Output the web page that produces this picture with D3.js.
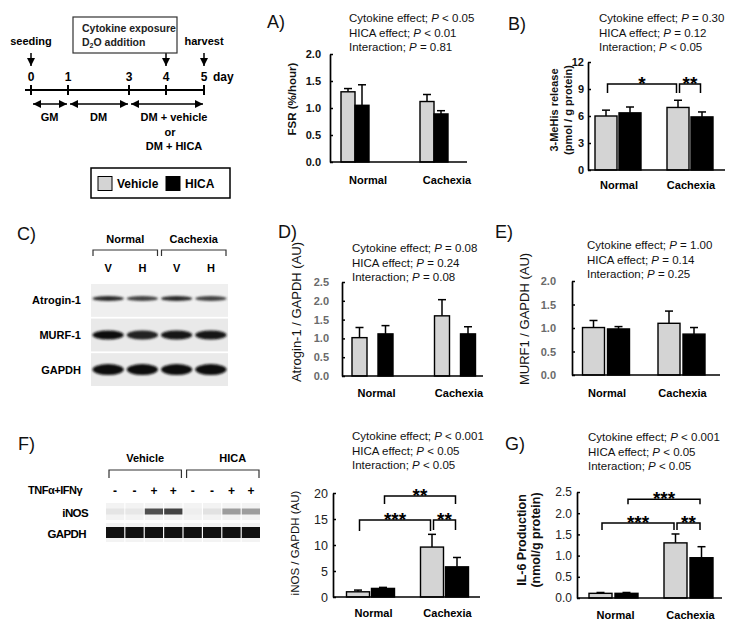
<!DOCTYPE html>
<html>
<head>
<meta charset="UTF-8">
<title>HICA - cytokine exposure figure</title>
<script src="https://cdn.jsdelivr.net/npm/d3@7"></script>
<style>
  body { margin: 0; background: #fff; }
  text { font-family: "Liberation Sans", Arial, sans-serif; }
</style>
</head>
<body>
<script>
var W = 739, H = 628;

// ---------- data ----------
var groups = ["Normal", "Cachexia"];
var series = ["Vehicle", "HICA"];

// timeline
var days = [0, 1, 3, 4, 5];
var phases = [
  { from: 0, to: 1, label: ["GM"] },
  { from: 1, to: 3, label: ["DM"] },
  { from: 3, to: 5, label: ["DM + vehicle", "or", "DM + HICA"] }
];

// A) FSR (%/hour)
var fsrVehicle = [1.30, 1.12], fsrVehicleSE = [0.06, 0.13];
var fsrHica = [1.05, 0.89], fsrHicaSE = [0.38, 0.06];
var pA = [["Cytokine effect", "<", "0.05"], ["HICA effect", "<", "0.01"], ["Interaction", "=", "0.81"]];

// B) 3-MeHis release
var mehVehicle = [6.0, 6.95], mehVehicleSE = [0.65, 0.8];
var mehHica = [6.35, 5.9], mehHicaSE = [0.65, 0.55];
var pB = [["Cytokine effect", "=", "0.30"], ["HICA effect", "=", "0.12"], ["Interaction", "<", "0.05"]];
var sigB = [
  { a: ["Normal", "Vehicle"], b: ["Cachexia", "Vehicle"], level: 9.55, text: "*" },
  { a: ["Cachexia", "Vehicle"], b: ["Cachexia", "HICA"], level: 9.55, text: "**" }
];

// C) western blot
var blotRows = ["Atrogin-1", "MURF-1", "GAPDH"];
var blotLanes = ["V", "H", "V", "H"];
var blotGroups = ["Normal", "Cachexia"];
var atroginBand = [0.85, 0.75, 0.85, 0.75];
var murfBand = [0.97, 0.9, 0.96, 0.96];
var gapdhBand = [0.98, 0.98, 0.97, 0.99];

// D) Atrogin-1 / GAPDH
var atrVehicle = [1.02, 1.60], atrVehicleSE = [0.27, 0.43];
var atrHica = [1.12, 1.12], atrHicaSE = [0.22, 0.19];
var pD = [["Cytokine effect", "=", "0.08"], ["HICA effect", "=", "0.24"], ["Interaction", "=", "0.08"]];

// E) MURF1 / GAPDH
var murVehicle = [1.01, 1.10], murVehicleSE = [0.15, 0.26];
var murHica = [0.98, 0.87], murHicaSE = [0.05, 0.14];
var pE = [["Cytokine effect", "=", "1.00"], ["HICA effect", "=", "0.14"], ["Interaction", "=", "0.25"]];

// F) capillary blot + iNOS / GAPDH
var wesGroups = ["Vehicle", "HICA"];
var cytokine = ["-", "-", "+", "+", "-", "-", "+", "+"];
var inosBand = [0.06, 0.05, 0.72, 0.78, 0.02, 0.07, 0.38, 0.38];
var gapdhWes = [1, 1, 1, 1, 1, 1, 1, 1];
var inosVehicle = [1.0, 9.6], inosVehicleSE = [0.33, 2.45];
var inosHica = [1.65, 5.8], inosHicaSE = [0.2, 1.8];
var pF = [["Cytokine effect", "<", "0.001"], ["HICA effect", "<", "0.05"], ["Interaction", "<", "0.05"]];
var sigF = [
  { a: ["Normal", "Vehicle"], b: ["Cachexia", "Vehicle"], level: 14.8, text: "***", leg: 11 },
  { a: ["Cachexia", "Vehicle"], b: ["Cachexia", "HICA"], level: 14.8, text: "**", leg: 10 },
  { a: ["Normal", "HICA"], b: ["Cachexia", "HICA"], level: 19.4, text: "**", leg: 8 }
];

// G) IL-6 production
var il6Vehicle = [0.11, 1.30], il6VehicleSE = [0.02, 0.21];
var il6Hica = [0.11, 0.95], il6HicaSE = [0.02, 0.26];
var pG = [["Cytokine effect", "<", "0.001"], ["HICA effect", "<", "0.05"], ["Interaction", "<", "0.05"]];
var sigG = [
  { a: ["Normal", "Vehicle"], b: ["Cachexia", "Vehicle"], level: 1.77, text: "***", leg: 7 },
  { a: ["Cachexia", "Vehicle"], b: ["Cachexia", "HICA"], level: 1.77, text: "**", leg: 7 },
  { a: ["Normal", "HICA"], b: ["Cachexia", "HICA"], level: 2.33, text: "***", leg: 5 }
];

var colors = { Vehicle: "#d4d4d4", HICA: "#000" };

// ---------- svg ----------
var svg = d3.select("body").append("svg")
  .attr("width", W).attr("height", H)
  .style("display", "block");

var defs = svg.append("defs");
defs.append("marker")
  .attr("id", "arr")
  .attr("viewBox", "0 0 10 10")
  .attr("refX", 10).attr("refY", 5)
  .attr("markerWidth", 8).attr("markerHeight", 8)
  .attr("markerUnits", "userSpaceOnUse")
  .attr("orient", "auto-start-reverse")
  .append("path").attr("d", "M0,0L10,5L0,10Z").attr("fill", "#000");
defs.append("filter").attr("id", "blur")
  .attr("x", "-20%").attr("y", "-60%").attr("width", "140%").attr("height", "220%")
  .append("feGaussianBlur").attr("stdDeviation", 1.1);

function panelLabel(t, x, y) {
  svg.append("text").attr("x", x).attr("y", y)
    .attr("font-size", 18).attr("fill", "#111").text(t);
}

function pText(lines, x, y0) {
  lines.forEach(function(l, i) {
    var t = svg.append("text").attr("x", x).attr("y", y0 + i * 14.5)
      .attr("font-size", 11.5).attr("fill", "#111");
    t.append("tspan").text(l[0] + "; ");
    t.append("tspan").attr("font-style", "italic").text("P");
    t.append("tspan").text(" " + l[1] + " " + l[2]);
  });
}

// ---------- timeline ----------
(function() {
  var g = svg.append("g");
  var dx = d3.scaleLinear().domain(days).range([31, 68, 129, 166, 204]);
  var ly = 90;

  g.append("line").attr("x1", 25).attr("x2", dx(5)).attr("y1", ly).attr("y2", ly)
    .attr("stroke", "#000").attr("stroke-width", 2);
  g.selectAll(".dt").data(days).enter().append("line")
    .attr("x1", dx).attr("x2", dx).attr("y1", ly - 5).attr("y2", ly + 5)
    .attr("stroke", "#000").attr("stroke-width", 2);
  g.selectAll(".dl").data(days).enter().append("text")
    .attr("x", dx).attr("y", 81).attr("text-anchor", "middle")
    .attr("font-size", 12).attr("font-weight", "bold").text(function(d) { return d; });
  g.append("text").attr("x", 213).attr("y", 81).attr("font-size", 12)
    .attr("font-weight", "bold").text("day");

  // events
  [{ d: 0, t: "seeding" }, { d: 5, t: "harvest" }].forEach(function(e) {
    g.append("text").attr("x", dx(e.d)).attr("y", 45).attr("text-anchor", "middle")
      .attr("font-size", 11).attr("font-weight", "bold").text(e.t);
  });
  [0, 4, 5].forEach(function(d) {
    g.append("line").attr("x1", dx(d)).attr("x2", dx(d)).attr("y1", 53).attr("y2", 66)
      .attr("stroke", "#000").attr("stroke-width", 1.5).attr("marker-end", "url(#arr)");
  });
  g.append("rect").attr("x", 73).attr("y", 17).attr("width", 104).attr("height", 36)
    .attr("fill", "#fff").attr("stroke", "#333").attr("stroke-width", 1.2);
  g.append("text").attr("x", 82).attr("y", 32).attr("font-size", 10.5)
    .attr("font-weight", "bold").attr("fill", "#222").text("Cytokine exposure");
  var d2o = g.append("text").attr("x", 82).attr("y", 46).attr("font-size", 10.5)
    .attr("font-weight", "bold").attr("fill", "#222");
  d2o.append("tspan").text("D");
  d2o.append("tspan").attr("font-size", 7).attr("dy", 2).text("2");
  d2o.append("tspan").attr("dy", -2).text("O addition");

  // phases
  phases.forEach(function(p) {
    g.append("line").attr("x1", dx(p.from) + 2).attr("x2", dx(p.to) - 1)
      .attr("y1", 104).attr("y2", 104)
      .attr("stroke", "#000").attr("stroke-width", 1.5)
      .attr("marker-start", "url(#arr)").attr("marker-end", "url(#arr)");
    if (p.label.length === 1) {
      g.append("text").attr("x", dx((p.from + p.to) / 2)).attr("y", 121)
        .attr("text-anchor", "middle").attr("font-size", 11).attr("font-weight", "bold")
        .text(p.label[0]);
    } else {
      p.label.forEach(function(l, i) {
        g.append("text").attr("x", 174 - (i === 1 ? 4 : 0)).attr("y", 121 + i * 14.5)
          .attr("text-anchor", "middle").attr("font-size", 11).attr("font-weight", "bold")
          .text(l);
      });
    }
  });

  // legend
  var lg = svg.append("g");
  lg.append("rect").attr("x", 91).attr("y", 168).attr("width", 139).attr("height", 30)
    .attr("fill", "#fff").attr("stroke", "#000").attr("stroke-width", 1.5);
  var lx = d3.scalePoint().domain(series).range([98, 166]);
  series.forEach(function(s) {
    lg.append("rect").attr("x", lx(s)).attr("y", 176.5).attr("width", 14).attr("height", 14)
      .attr("fill", colors[s]).attr("stroke", "#000").attr("stroke-width", 1);
    lg.append("text").attr("x", lx(s) + 19).attr("y", 188).attr("font-size", 12)
      .attr("font-weight", "bold").text(s);
  });
})();

// ---------- bar panel ----------
function barPanel(c) {
  var g = svg.append("g");
  var y = d3.scaleLinear().domain([0, c.max]).range([c.yBot, c.yTop]);
  var x0 = d3.scalePoint().domain(groups).range([c.ax + c.g0, c.ax + c.g0 + c.gStep]);
  var x1 = d3.scaleBand().domain(series)
    .range([-(c.barW + c.gap / 2), c.barW + c.gap / 2])
    .paddingInner(c.gap / (c.barW + c.gap));
  var bw = x1.bandwidth();

  var rows = [];
  groups.forEach(function(gr, i) {
    rows.push({ g: gr, s: "Vehicle", m: c.vMean[i], e: c.vSE[i] });
    rows.push({ g: gr, s: "HICA", m: c.hMean[i], e: c.hSE[i] });
  });
  function cx(gr, s) { return x0(gr) + x1(s) + bw / 2; }

  // error bars
  var eb = g.selectAll(".err").data(rows).enter().append("g");
  eb.append("line")
    .attr("x1", function(d) { return cx(d.g, d.s); })
    .attr("x2", function(d) { return cx(d.g, d.s); })
    .attr("y1", function(d) { return y(d.m); })
    .attr("y2", function(d) { return y(d.m + d.e); })
    .attr("stroke", "#000").attr("stroke-width", 1.5);
  eb.append("line")
    .attr("x1", function(d) { return cx(d.g, d.s) - 4; })
    .attr("x2", function(d) { return cx(d.g, d.s) + 4; })
    .attr("y1", function(d) { return y(d.m + d.e); })
    .attr("y2", function(d) { return y(d.m + d.e); })
    .attr("stroke", "#000").attr("stroke-width", 1.5);

  // bars
  g.selectAll(".bar").data(rows).enter().append("rect")
    .attr("x", function(d) { return x0(d.g) + x1(d.s); })
    .attr("y", function(d) { return y(d.m); })
    .attr("width", bw)
    .attr("height", function(d) { return y(0) - y(d.m); })
    .attr("fill", function(d) { return colors[d.s]; })
    .attr("stroke", "#000").attr("stroke-width", 1.4);

  // axes
  var ticks = d3.range(0, c.max + 1e-9, c.step);
  var ya = g.append("g").attr("transform", "translate(" + c.ax + ",0)")
    .call(d3.axisLeft(y).tickValues(ticks).tickFormat(d3.format(c.fmt))
      .tickSizeInner(-3).tickSizeOuter(0).tickPadding(c.pad));
  ya.select(".domain").attr("stroke-width", 1.7);
  ya.selectAll(".tick line").attr("stroke-width", 1.5);
  ya.selectAll(".tick text")
    .attr("font-family", c.tickFont).attr("font-size", c.tickSize)
    .attr("font-weight", c.tickWeight).attr("fill", c.tickColor);
  g.append("line").attr("x1", c.ax).attr("x2", c.ae).attr("y1", y(0)).attr("y2", y(0))
    .attr("stroke", "#000").attr("stroke-width", 1.7);

  // categories
  g.selectAll(".cat").data(groups).enter().append("text")
    .attr("x", function(d) { return x0(d) + c.catDx; })
    .attr("y", c.catY).attr("text-anchor", "middle")
    .attr("font-size", 11).attr("font-weight", "bold").text(function(d) { return d; });

  // y label
  c.ylab.lines.forEach(function(l, i) {
    g.append("text")
      .attr("transform", "translate(" + (c.ylab.x + i * 14) + "," + c.ylab.y + ") rotate(-90)")
      .attr("text-anchor", "middle")
      .attr("font-family", c.ylab.font || null)
      .attr("font-size", c.ylab.size).attr("font-weight", c.ylab.weight)
      .attr("fill", c.ylab.color || "#111").text(l);
  });

  // significance
  (c.sig || []).forEach(function(s) {
    var xa = cx(s.a[0], s.a[1]) + 1.5, xb = cx(s.b[0], s.b[1]) - 1.5;
    var yl = y(s.level), leg = s.leg || 9;
    g.append("path")
      .attr("d", "M" + xa + "," + (yl + leg) + "V" + yl + "H" + xb + "V" + (yl + leg))
      .attr("fill", "none").attr("stroke", "#000").attr("stroke-width", 1.5);
    g.append("text").attr("x", (xa + xb) / 2).attr("y", yl + 6)
      .attr("text-anchor", "middle").attr("font-size", 19).attr("font-weight", "bold")
      .text(s.text);
  });
}

// A
panelLabel("A)", 267, 28);
pText(pA, 349, 22);
barPanel({ ax: 330, ae: 467, yTop: 54, yBot: 162, max: 2, step: 0.5, fmt: ".1f",
  g0: 25, gStep: 79, barW: 14, gap: 0, catY: 184, catDx: 13,
  vMean: fsrVehicle, vSE: fsrVehicleSE, hMean: fsrHica, hSE: fsrHicaSE,
  tickFont: "Liberation Sans", tickSize: 11, tickWeight: "bold", tickColor: "#111", pad: 9,
  ylab: { lines: ["FSR (%/hour)"], x: 296, y: 99, size: 11.5, weight: "bold" } });

// B
panelLabel("B)", 508, 30);
pText(pB, 599, 22);
barPanel({ ax: 588, ae: 725, yTop: 62, yBot: 170, max: 12, step: 3, fmt: "d",
  g0: 30, gStep: 72, barW: 22, gap: 2, catY: 189, catDx: 1,
  vMean: mehVehicle, vSE: mehVehicleSE, hMean: mehHica, hSE: mehHicaSE,
  tickFont: "Liberation Sans", tickSize: 11, tickWeight: "bold", tickColor: "#111", pad: 4,
  sig: sigB,
  ylab: { lines: ["3-MeHis release", "(pmol / g protein)"], x: 558, y: 110, size: 11, weight: "bold" } });

// C blot
panelLabel("C)", 17, 240);
(function() {
  var g = svg.append("g");
  var lx = d3.scaleBand().domain(d3.range(blotLanes.length)).range([91, 228]);
  var ry = d3.scaleBand().domain(blotRows).range([284, 386]).paddingInner(0.05);
  var bands = { "Atrogin-1": atroginBand, "MURF-1": murfBand, "GAPDH": gapdhBand };
  var thick = { "Atrogin-1": 5, "MURF-1": 9, "GAPDH": 11 };
  var bg = { "Atrogin-1": "#efefef", "MURF-1": "#e9e9e9", "GAPDH": "#eaeaea" };
  var shade = d3.interpolateRgb("#ececec", "#0a0a0a");

  blotRows.forEach(function(r) {
    g.append("rect").attr("x", 91).attr("y", ry(r)).attr("width", 137)
      .attr("height", ry.bandwidth()).attr("fill", bg[r]);
    g.selectAll(null).data(bands[r]).enter().append("ellipse")
      .attr("cx", function(d, i) { return lx(i) + lx.bandwidth() / 2; })
      .attr("cy", ry(r) + ry.bandwidth() / 2 - (r === "Atrogin-1" ? 2 : 0))
      .attr("rx", lx.bandwidth() / 2 - 1.5).attr("ry", thick[r] / 2)
      .attr("fill", function(d) { return shade(d); })
      .attr("filter", "url(#blur)");
    g.append("text").attr("x", 81).attr("y", ry(r) + ry.bandwidth() / 2 + 4)
      .attr("text-anchor", "end").attr("font-size", 11).attr("font-weight", "bold").text(r);
  });
  g.selectAll(null).data(blotLanes).enter().append("text")
    .attr("x", function(d, i) { return lx(i) + lx.bandwidth() / 2; })
    .attr("y", 272).attr("text-anchor", "middle").attr("font-size", 11)
    .attr("font-weight", "bold").text(function(d) { return d; });
  blotGroups.forEach(function(gr, k) {
    var a = lx(k * 2) + 2, b = lx(k * 2 + 1) + lx.bandwidth() - 2;
    g.append("path").attr("d", "M" + a + ",256V250H" + b + "V256")
      .attr("fill", "none").attr("stroke", "#333").attr("stroke-width", 1.2);
    g.append("text").attr("x", (a + b) / 2).attr("y", 243).attr("text-anchor", "middle")
      .attr("font-size", 11).attr("font-weight", "bold").text(gr);
  });
})();

// D
panelLabel("D)", 278, 238);
pText(pD, 352, 252);
barPanel({ ax: 342, ae: 483, yTop: 282, yBot: 376, max: 2.5, step: 0.5, fmt: ".1f",
  g0: 30.5, gStep: 82.5, barW: 15, gap: 11, catY: 397, catDx: 4,
  vMean: atrVehicle, vSE: atrVehicleSE, hMean: atrHica, hSE: atrHicaSE,
  tickFont: "Liberation Sans", tickSize: 11, tickWeight: "bold", tickColor: "#6a6a6a", pad: 13,
  ylab: { lines: ["Atrogin-1 / GAPDH (AU)"], x: 301, y: 312, size: 13, weight: "normal" } });

// E
panelLabel("E)", 495, 238);
pText(pE, 587, 249);
barPanel({ ax: 572, ae: 720, yTop: 281, yBot: 375, max: 2, step: 0.5, fmt: ".1f",
  g0: 34, gStep: 75.5, barW: 22, gap: 3, catY: 397, catDx: 1,
  vMean: murVehicle, vSE: murVehicleSE, hMean: murHica, hSE: murHicaSE,
  tickFont: "Liberation Sans", tickSize: 11, tickWeight: "bold", tickColor: "#6a6a6a", pad: 16,
  ylab: { lines: ["MURF1 / GAPDH (AU)"], x: 529, y: 319, size: 13, weight: "normal" } });

// F blot
panelLabel("F)", 18, 450);
(function() {
  var g = svg.append("g");
  var lx = d3.scaleBand().domain(d3.range(cytokine.length)).range([106, 260]).paddingInner(0.06);
  var rows = [{ name: "iNOS", vals: inosBand, y: 503, h: 17, bh: 6 },
              { name: "GAPDH", vals: gapdhWes, y: 523, h: 19, bh: 11 }];
  var shade = d3.interpolateRgb("#f2f2f2", "#111");
  rows.forEach(function(r) {
    g.selectAll(null).data(r.vals).enter().append("rect")
      .attr("x", function(d, i) { return lx(i); }).attr("y", r.y)
      .attr("width", lx.bandwidth()).attr("height", r.h).attr("fill", "#f3f3f3");
    g.selectAll(null).data(r.vals).enter().append("rect")
      .attr("x", function(d, i) { return lx(i); })
      .attr("y", r.y + (r.h - r.bh) / 2)
      .attr("width", lx.bandwidth()).attr("height", r.bh)
      .attr("fill", function(d) { return shade(d); });
    g.append("text").attr("x", r.name === "iNOS" ? 88 : 86).attr("y", r.y + r.h / 2 + 5)
      .attr("text-anchor", "end").attr("font-size", 11.5).attr("font-weight", "bold")
      .attr("letter-spacing", -0.6).text(r.name);
  });
  g.selectAll(null).data(cytokine).enter().append("text")
    .attr("x", function(d, i) { return lx(i) + lx.bandwidth() / 2; })
    .attr("y", 495).attr("text-anchor", "middle").attr("font-size", 12)
    .attr("font-weight", "bold").text(function(d) { return d; });
  g.append("text").attr("x", 82).attr("y", 494).attr("text-anchor", "end")
    .attr("font-size", 11).attr("font-weight", "bold").attr("letter-spacing", -0.5)
    .text("TNF\u03b1+IFN\u03b3");
  wesGroups.forEach(function(gr, k) {
    var a = lx(k * 4) + 3, b = lx(k * 4 + 3) + lx.bandwidth() - 1;
    g.append("path").attr("d", "M" + a + ",478V470H" + b + "V478")
      .attr("fill", "none").attr("stroke", "#333").attr("stroke-width", 1.2);
    g.append("text").attr("x", (a + b) / 2 + (k ? 10 : 0)).attr("y", 462).attr("text-anchor", "middle")
      .attr("font-size", 11).attr("font-weight", "bold").text(gr);
  });
})();

// F chart
pText(pF, 352, 440);
barPanel({ ax: 333, ae: 480, yTop: 493, yBot: 597, max: 20, step: 5, fmt: "d",
  g0: 37.5, gStep: 74, barW: 23, gap: 2, catY: 617, catDx: 3,
  vMean: inosVehicle, vSE: inosVehicleSE, hMean: inosHica, hSE: inosHicaSE,
  tickFont: "DejaVu Sans", tickSize: 12.5, tickWeight: "normal", tickColor: "#222", pad: 5,
  sig: sigF,
  ylab: { lines: ["iNOS / GAPDH (AU)"], x: 299, y: 543, size: 11.5, weight: "normal", font: "DejaVu Sans" } });

// G
panelLabel("G)", 505, 450);
pText(pG, 588, 441);
barPanel({ ax: 577, ae: 722, yTop: 492, yBot: 598, max: 2.5, step: 0.5, fmt: ".1f",
  g0: 36.5, gStep: 75, barW: 23, gap: 3, catY: 619, catDx: 2,
  vMean: il6Vehicle, vSE: il6VehicleSE, hMean: il6Hica, hSE: il6HicaSE,
  tickFont: "DejaVu Sans", tickSize: 12, tickWeight: "normal", tickColor: "#222", pad: 5,
  sig: sigG,
  ylab: { lines: ["IL-6 Production", "(nmol/g protein)"], x: 526, y: 540, size: 12.5, weight: "bold" } });
</script>
</body>
</html>
